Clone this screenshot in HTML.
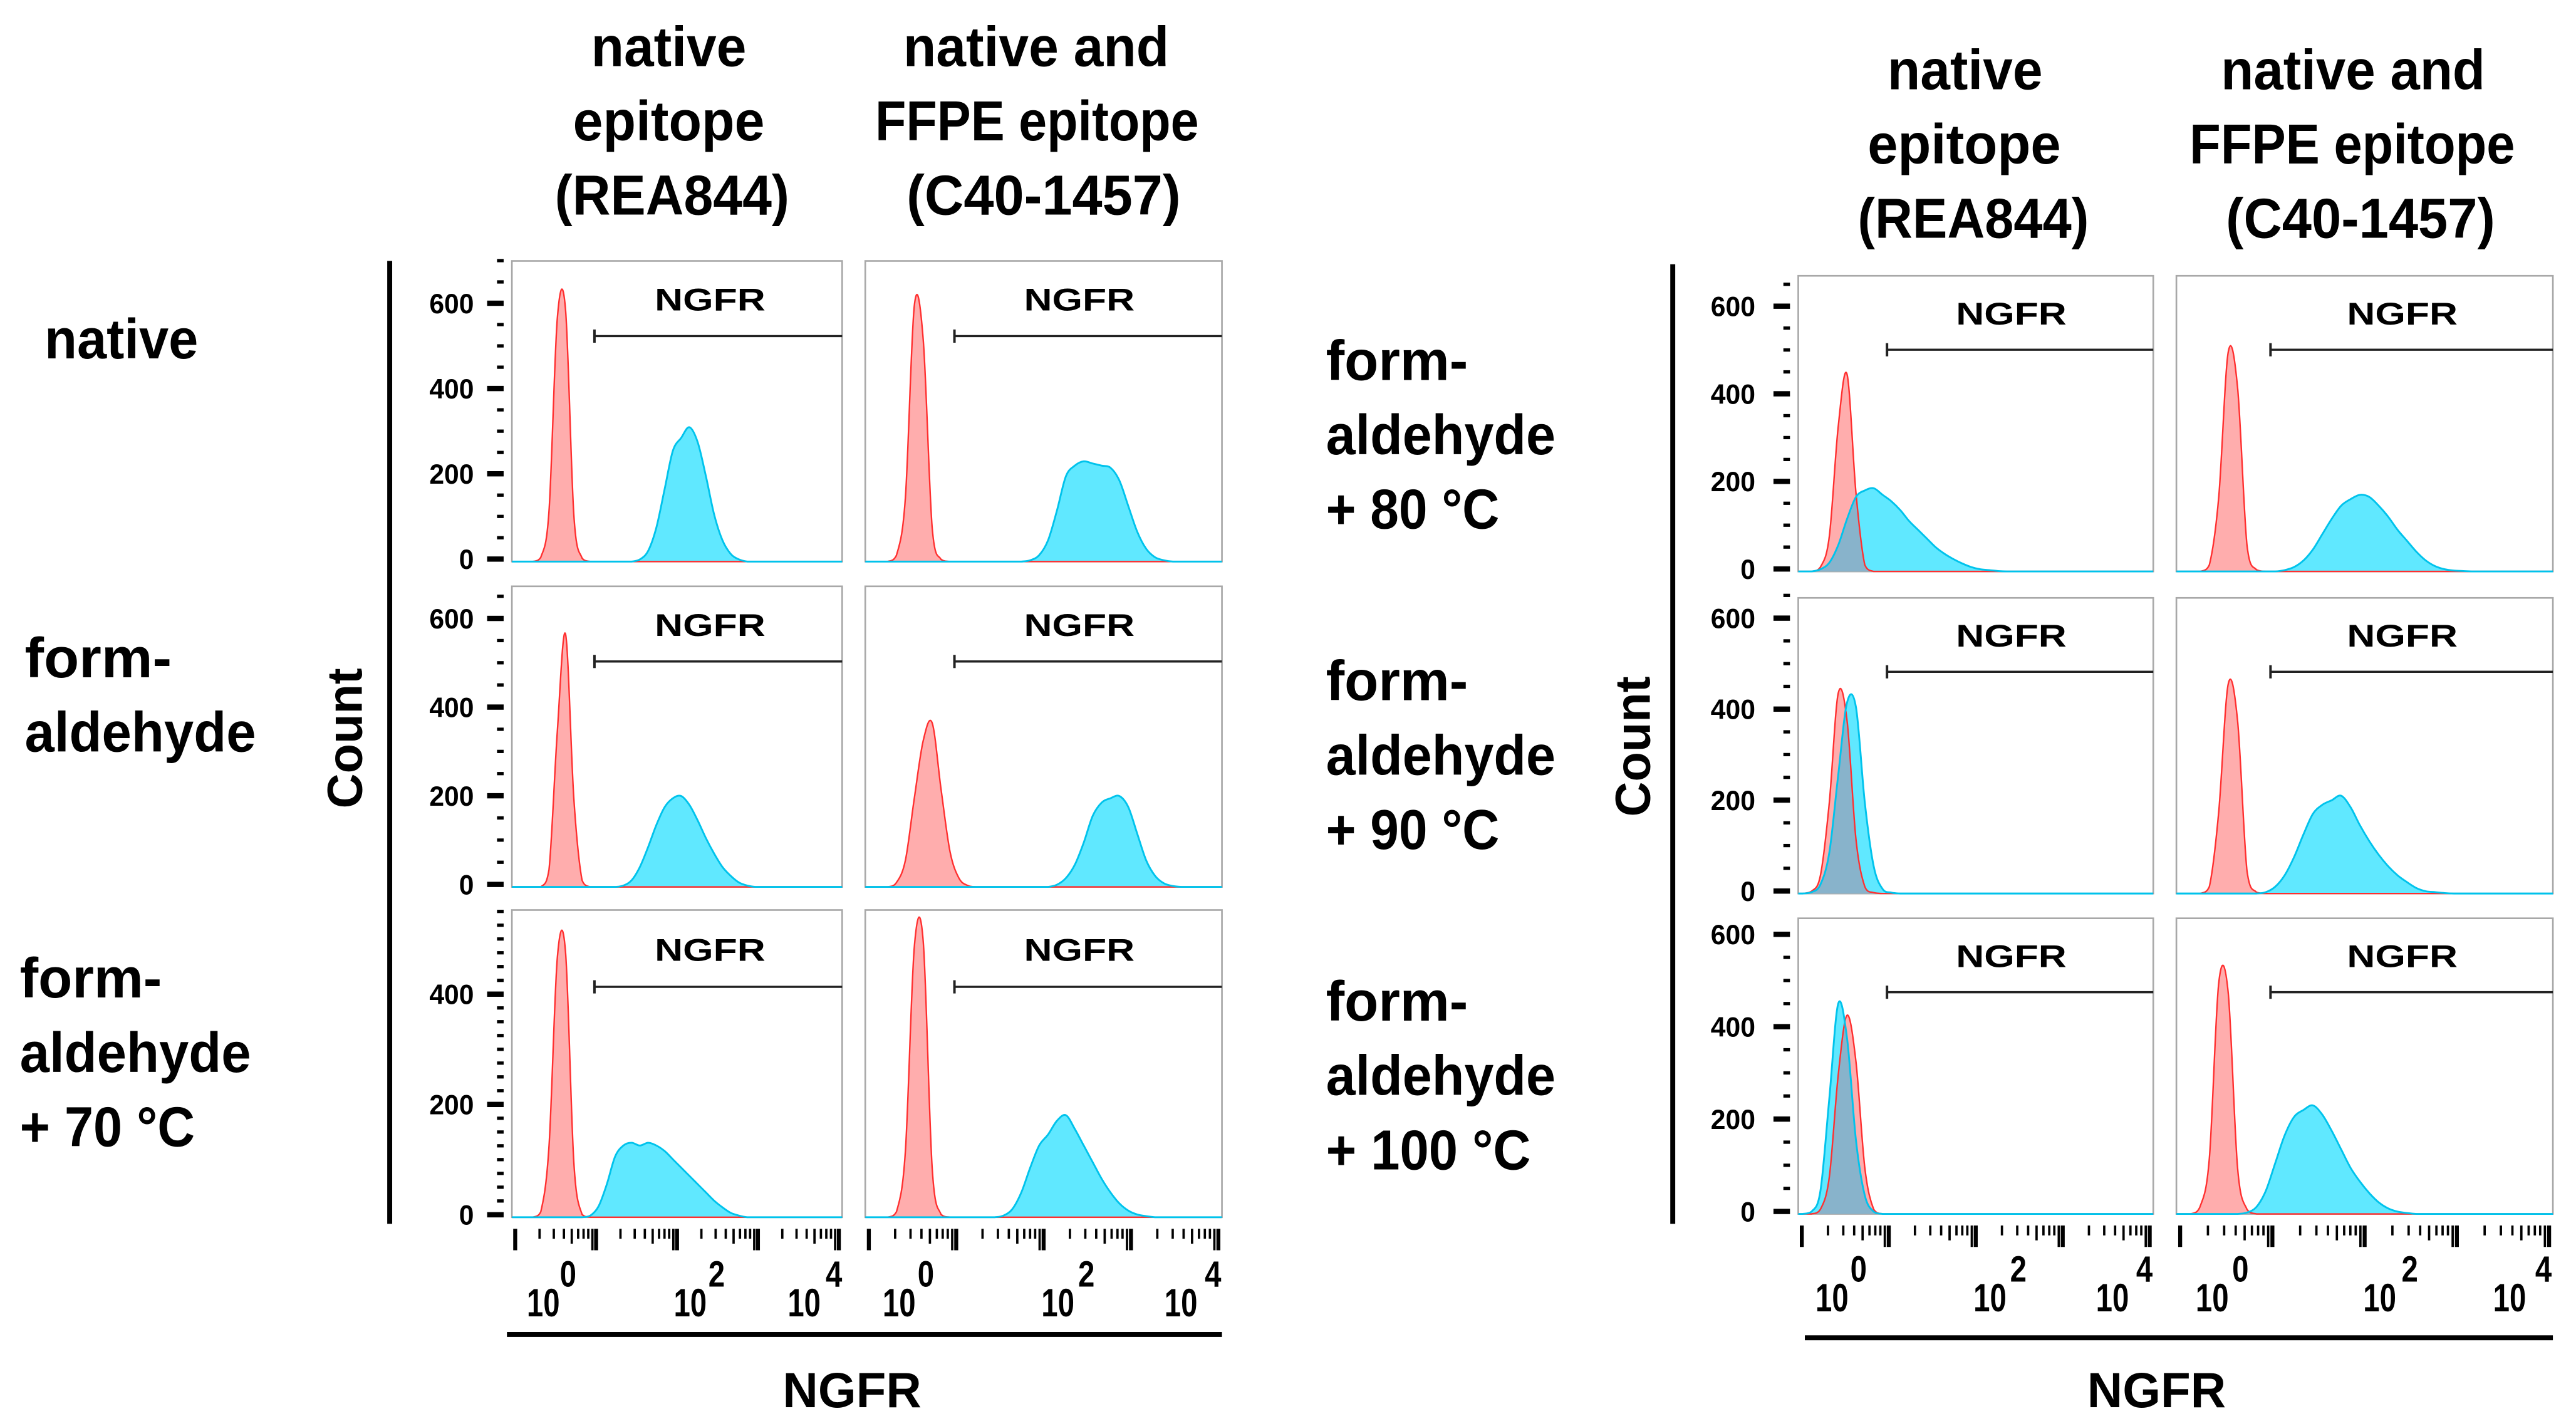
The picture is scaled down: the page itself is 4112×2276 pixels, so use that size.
<!DOCTYPE html>
<html>
<head>
<meta charset="utf-8">
<style>
html,body{margin:0;padding:0;background:#fff;}
svg{display:block;}
text{font-family:"Liberation Sans",sans-serif;font-weight:bold;fill:#000;}
</style>
</head>
<body>
<svg id="fig" width="4112" height="2276" viewBox="0 0 1560 863.4" preserveAspectRatio="none" xmlns="http://www.w3.org/2000/svg">
  <g>
    <text x="358" y="40" font-size="34" textLength="94" lengthAdjust="spacingAndGlyphs">native</text>
    <text x="347" y="85" font-size="34" textLength="116" lengthAdjust="spacingAndGlyphs">epitope</text>
    <text x="336" y="130" font-size="34" textLength="142" lengthAdjust="spacingAndGlyphs">(REA844)</text>
    <text x="547" y="40" font-size="34" textLength="161" lengthAdjust="spacingAndGlyphs">native and</text>
    <text x="530" y="85" font-size="34" textLength="196" lengthAdjust="spacingAndGlyphs">FFPE epitope</text>
    <text x="549" y="130" font-size="34" textLength="166" lengthAdjust="spacingAndGlyphs">(C40-1457)</text>
  </g>
  <g>
    <text x="1143" y="54" font-size="34" textLength="94" lengthAdjust="spacingAndGlyphs">native</text>
    <text x="1131" y="99" font-size="34" textLength="117" lengthAdjust="spacingAndGlyphs">epitope</text>
    <text x="1125" y="144" font-size="34" textLength="140" lengthAdjust="spacingAndGlyphs">(REA844)</text>
    <text x="1345" y="54" font-size="34" textLength="160" lengthAdjust="spacingAndGlyphs">native and</text>
    <text x="1326" y="99" font-size="34" textLength="197" lengthAdjust="spacingAndGlyphs">FFPE epitope</text>
    <text x="1348" y="144" font-size="34" textLength="163" lengthAdjust="spacingAndGlyphs">(C40-1457)</text>
  </g>
  <g>
    <text x="27" y="217" font-size="34" textLength="93" lengthAdjust="spacingAndGlyphs">native</text>
    <text x="15" y="410" font-size="34" textLength="89" lengthAdjust="spacingAndGlyphs">form-</text>
    <text x="15" y="455" font-size="34" textLength="140" lengthAdjust="spacingAndGlyphs">aldehyde</text>
    <text x="12" y="604" font-size="34" textLength="86" lengthAdjust="spacingAndGlyphs">form-</text>
    <text x="12" y="649" font-size="34" textLength="140" lengthAdjust="spacingAndGlyphs">aldehyde</text>
    <text x="12" y="694" font-size="34" textLength="106" lengthAdjust="spacingAndGlyphs">+ 70 °C</text>
  </g>
  <g>
    <text x="803" y="230" font-size="34" textLength="86" lengthAdjust="spacingAndGlyphs">form-</text>
    <text x="803" y="275" font-size="34" textLength="139" lengthAdjust="spacingAndGlyphs">aldehyde</text>
    <text x="803" y="320" font-size="34" textLength="105" lengthAdjust="spacingAndGlyphs">+ 80 °C</text>
    <text x="803" y="424" font-size="34" textLength="86" lengthAdjust="spacingAndGlyphs">form-</text>
    <text x="803" y="469" font-size="34" textLength="139" lengthAdjust="spacingAndGlyphs">aldehyde</text>
    <text x="803" y="514" font-size="34" textLength="105" lengthAdjust="spacingAndGlyphs">+ 90 °C</text>
    <text x="803" y="618" font-size="34" textLength="86" lengthAdjust="spacingAndGlyphs">form-</text>
    <text x="803" y="663" font-size="34" textLength="139" lengthAdjust="spacingAndGlyphs">aldehyde</text>
    <text x="803" y="708" font-size="34" textLength="124" lengthAdjust="spacingAndGlyphs">+ 100 °C</text>
  </g>
  <rect x="234.5" y="158" width="3" height="583" fill="#000"/>
  <rect x="1011.5" y="160" width="3" height="581" fill="#000"/>
  <text transform="translate(219,447) rotate(-90)" text-anchor="middle" font-size="30" textLength="85" lengthAdjust="spacingAndGlyphs">Count</text>
  <text transform="translate(999,452) rotate(-90)" text-anchor="middle" font-size="30" textLength="85" lengthAdjust="spacingAndGlyphs">Count</text>
  <rect x="307" y="806.5" width="433" height="3" fill="#000"/>
  <rect x="1093" y="808.5" width="453" height="3" fill="#000"/>
  <text x="474" y="852" font-size="30" textLength="84" lengthAdjust="spacingAndGlyphs">NGFR</text>
  <text x="1264" y="852" font-size="30" textLength="84" lengthAdjust="spacingAndGlyphs">NGFR</text>
  <g id="panels"></g>
</svg>
<script>
// ---- chart data: counts per bin (40 log-scale bins across each panel) ----
const BINS = 40;
const red_L11  = [0,0,0,10,120,570,590,110,8];
const cyan_L11 = [0,0,0,0,0,0,0,0,0,0,0,0,0,0,0,5,25,80,170,260,290,315,280,200,110,50,18,5];
const red_L12  = [0,0,0,15,150,600,520,80,5];
const cyan_L12 = [0,0,0,0,0,0,0,0,0,0,0,0,0,0,0,0,0,0,3,15,50,120,200,225,235,230,225,220,190,130,70,30,10,3];
const red_L21  = [0,0,0,0,40,350,570,200,15];
const cyan_L21 = [0,0,0,0,0,0,0,0,0,0,0,0,0,3,15,45,90,140,180,200,205,185,150,110,75,45,25,10,3];
const red_L22  = [0,0,0,10,60,200,330,370,220,80,20,3];
const cyan_L22 = [0,0,0,0,0,0,0,0,0,0,0,0,0,0,0,0,0,0,0,0,0,5,20,50,100,160,190,200,205,180,120,60,25,8,2];
const red_L31  = [0,0,0,10,130,470,480,100,5];
const cyan_L31 = [0,0,0,0,0,0,0,0,0,3,20,60,110,130,135,130,135,130,120,105,90,75,60,45,30,18,8,3];
const red_L32  = [0,0,0,10,120,490,500,90,5];
const cyan_L32 = [0,0,0,0,0,0,0,0,0,0,0,0,0,0,0,3,15,45,90,130,150,175,185,160,130,100,70,45,25,12,5,2];
const red_R11  = [0,0,10,80,330,450,180,15];
const cyan_R11 = [0,0,5,20,60,120,170,185,190,175,160,140,115,95,75,55,40,28,18,10,5,3,1];
const red_R12  = [0,0,0,15,170,500,420,60,4];
const cyan_R12 = [0,0,0,0,0,0,0,0,0,0,0,3,10,25,50,85,120,150,165,175,170,150,125,95,70,45,25,12,5,2,1];
const red_R21  = [0,5,40,200,440,380,120,15,2];
const cyan_R21 = [0,3,20,90,260,420,410,200,60,10,2];
const red_R22  = [0,0,0,15,180,460,380,50,3];
const cyan_R22 = [0,0,0,0,0,0,0,0,0,3,15,40,80,130,175,195,205,215,190,150,115,85,60,40,25,12,5,3,1];
const red_R31  = [0,0,10,80,300,430,330,100,10];
const cyan_R31 = [0,5,50,250,455,380,160,40,5];
const red_R32  = [0,0,15,120,500,480,100,10];
const cyan_R32 = [0,0,0,0,0,0,0,3,15,50,110,170,210,225,235,215,180,140,100,70,45,25,12,5,2];
// axis domains / ticks
const yMaxLeft  = [705, 678, 557];
const yMaxRight = [675, 650, 640];
const yTicksMajor = [0, 200, 400, 600];
const yMinorStepLeft  = [50, 50, 25];
const yMinorStepRight = [50, 50, 50];
const xDecadeTicks = [0.01, 0.255, 0.5, 0.745, 0.99];
const xMinorLogs = [2,3,4,5,6,7,8,9];
const xTickExps = ['0','2','4'];
const xTickBaseFrac = [0.095, 0.54, 0.885];
const xTickSupFrac = [0.17, 0.62, 0.975];
const gateStart = 0.25;

// ---- layout ----
const leftCols = [{x:310,w:200},{x:524,w:216}];
const leftRows = [{y:158,h:182},{y:355,h:182},{y:551,h:186}];
const rightCols = [{x:1089,w:215},{x:1318,w:228}];
const rightRows = [{y:167,h:179},{y:362,h:179},{y:556,h:179}];
const leftSeries = [[[red_L11,cyan_L11],[red_L12,cyan_L12]],[[red_L21,cyan_L21],[red_L22,cyan_L22]],[[red_L31,cyan_L31],[red_L32,cyan_L32]]];
const rightSeries = [[[red_R11,cyan_R11],[red_R12,cyan_R12]],[[red_R21,cyan_R21],[red_R22,cyan_R22]],[[red_R31,cyan_R31],[red_R32,cyan_R32]]];

const NS = 'http://www.w3.org/2000/svg';
const root = document.getElementById('panels');
let clipId = 0;
function mk(tag, attrs, parent){
  const e = document.createElementNS(NS, tag);
  for (const k in attrs) e.setAttribute(k, attrs[k]);
  (parent||root).appendChild(e);
  return e;
}
function pathFor(arr, px, py, w, h, ymax){
  const xs = (i)=> px + (i+0.5)/BINS*w;
  const ys = (v)=> py + h - Math.min(v,ymax)/ymax*h;
  const pts = [[px, py+h]];
  for (let i=0;i<BINS;i++){ pts.push([xs(i), ys(arr[i]||0)]); }
  pts.push([px+w, py+h]);
  let d = 'M'+pts[0][0]+','+pts[0][1];
  for (let i=0;i<pts.length-1;i++){
    const p0 = pts[Math.max(0,i-1)], p1 = pts[i], p2 = pts[i+1], p3 = pts[Math.min(pts.length-1,i+2)];
    let c1y = p1[1] + (p2[1]-p0[1])/6, c2y = p2[1] - (p3[1]-p1[1])/6;
    c1y = Math.min(c1y, py+h); c2y = Math.min(c2y, py+h);
    d += ' C'+(p1[0]+(p2[0]-p0[0])/6)+','+c1y+' '+(p2[0]-(p3[0]-p1[0])/6)+','+c2y+' '+p2[0]+','+p2[1];
  }
  return d;
}
function drawPanel(px, py, w, h, ymax, red, cyan, tag){
  const g = mk('g', {});
  
  
  const frame = mk('rect', {x:px, y:py, width:w, height:h, fill:'#fff', stroke:'#a8a8a8', 'stroke-width':1}, g);
  
  
  const dR = pathFor(red, px, py, w, h, ymax);
  const dC = pathFor(cyan, px, py, w, h, ymax);
  const rf = mk('path', {d:dR, fill:'#ffadad', stroke:'none'}, g);
  
  
  const cf = mk('path', {d:dC, fill:'#60e8ff', stroke:'none'}, g);
  
  
  const cid = 'clip'+(clipId++);
  const cp = mk('clipPath', {id:cid}, g);
  mk('path', {d:dR}, cp);
  const ov = mk('path', {d:dC, fill:'#88b3cb', 'clip-path':'url(#'+cid+')'}, g);
  
  
  const rs = mk('path', {d:dR, fill:'none', stroke:'#ff2f2f', 'stroke-width':0.9}, g);
  
  
  const cs = mk('path', {d:dC, fill:'none', stroke:'#00c3ec', 'stroke-width':1.1}, g);
  
  
  const gx = px + gateStart*w, gy = py + h*0.25;
  const gl = mk('line', {x1:gx, y1:gy, x2:px+w, y2:gy, stroke:'#222', 'stroke-width':1.3}, g);
  
  
  const gt = mk('line', {x1:gx, y1:gy-4, x2:gx, y2:gy+4, stroke:'#222', 'stroke-width':1.5}, g);
  
  
  const lab = mk('text', {x:px+w*0.6, y:py+h*0.165, 'text-anchor':'middle', 'font-size':19, textLength:67, lengthAdjust:'spacingAndGlyphs'}, g);
  lab.textContent = 'NGFR';
  
  
}
function drawYAxis(px, py, h, ymax, minorStep, labelRight, tag){
  const g = mk('g', {});
  
  
  const ys = (v)=> py + h - v/ymax*h - 1.5;
  for (let v=0; v<=ymax; v+=minorStep){
    const major = yTicksMajor.indexOf(v) >= 0;
    const t = mk('rect', {x: major? px-15 : px-9, y: ys(v)-(major?1.6:1), width: major?10:4, height: major?3.2:2, fill:'#000'}, g);
    
    
  }
  yTicksMajor.forEach(v=>{
    if (v>ymax) return;
    const t = mk('text', {x:labelRight, y:ys(v)+6, 'text-anchor':'end', 'font-size':17, textLength:(v===0?9:27), lengthAdjust:'spacingAndGlyphs'}, g);
    t.textContent = String(v);
    
    
  });
}
function drawXAxis(px, w, ty, supY, baseY, tag){
  const g = mk('g', {});
  
  
  const span = xDecadeTicks[1]-xDecadeTicks[0];
  xDecadeTicks.forEach((f,k)=>{
    const t = mk('rect', {x:px+f*w-1.2, y:ty, width:2.4, height:13, fill:'#000'}, g);
    
    
    if (k < xDecadeTicks.length-1){
      xMinorLogs.forEach(m=>{
        const fx = f + Math.log10(m)*span;
        const tall = (m===9);
        const mt = mk('rect', {x:px+fx*w-0.7, y:ty, width:1.4, height: tall?13:(m===5?9:6), fill:'#000'}, g);
        
        
      });
    }
  });
  xTickExps.forEach((e,k)=>{
    const b = mk('text', {x:px+xTickBaseFrac[k]*w, y:baseY, 'text-anchor':'middle', 'font-size':24, textLength:20, lengthAdjust:'spacingAndGlyphs'}, g);
    b.textContent = '10';
    
    
    const s = mk('text', {x:px+xTickSupFrac[k]*w, y:supY, 'text-anchor':'middle', 'font-size':22, textLength:10, lengthAdjust:'spacingAndGlyphs'}, g);
    s.textContent = e;
    
    
  });
}
leftRows.forEach((r,ri)=>{
  drawYAxis(leftCols[0].x, r.y, r.h, yMaxLeft[ri], yMinorStepLeft[ri], 287, 'left-row'+(ri+1));
  leftCols.forEach((c,ci)=>{
    drawPanel(c.x, r.y, c.w, r.h, yMaxLeft[ri], leftSeries[ri][ci][0], leftSeries[ri][ci][1], 'left-r'+(ri+1)+'c'+(ci+1));
  });
});
leftCols.forEach((c,ci)=> drawXAxis(c.x, c.w, 744, 779, 797, 'left-col'+(ci+1)));
rightRows.forEach((r,ri)=>{
  drawYAxis(rightCols[0].x, r.y, r.h, yMaxRight[ri], yMinorStepRight[ri], 1063, 'right-row'+(ri+1));
  rightCols.forEach((c,ci)=>{
    drawPanel(c.x, r.y, c.w, r.h, yMaxRight[ri], rightSeries[ri][ci][0], rightSeries[ri][ci][1], 'right-r'+(ri+1)+'c'+(ci+1));
  });
});
rightCols.forEach((c,ci)=> drawXAxis(c.x, c.w, 742, 776, 794, 'right-col'+(ci+1)));
</script>
</body>
</html>
